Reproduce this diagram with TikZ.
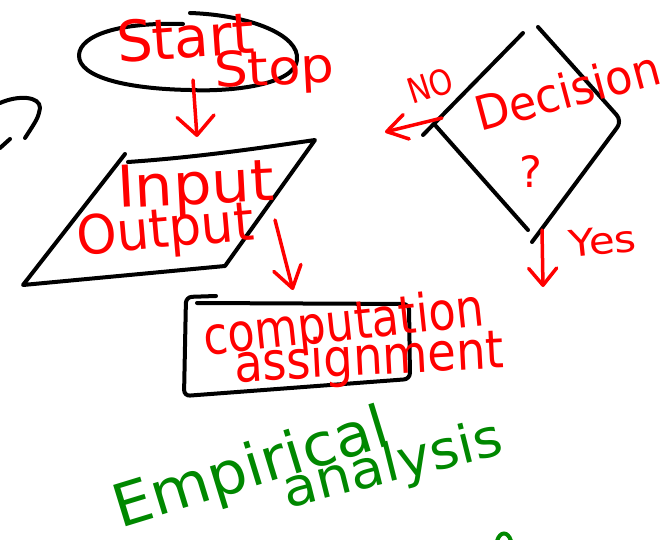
\documentclass[tikz,border=0pt]{standalone}
\usepackage{fontspec}
\setmainfont{DejaVu Sans}
\usetikzlibrary{arrows.meta,shapes.geometric}
\definecolor{ink}{RGB}{0,0,0}
\definecolor{hred}{RGB}{255,0,0}
\definecolor{hgreen}{RGB}{0,136,0}
\newcommand{\hw}[3]{\resizebox{#1pt}{#2pt}{#3}}
\begin{document}
\begin{tikzpicture}[x=1pt,y=-1pt,
  outline/.style={draw=ink,line width=4pt,line cap=round,line join=round},
  flow/.style={draw=hred,line width=3.5pt,line cap=round,line join=round},
  hand/.style={text=hred,inner sep=0pt,outer sep=0pt,anchor=base west},
  greenhand/.style={text=hgreen,inner sep=0pt,outer sep=0pt,anchor=base west}]
\fill[white] (0,0) rectangle (664,540);
\useasboundingbox (0,0) rectangle (664,540);

% partial shape at left edge
\coordinate (lA) at (0,103);
\coordinate (lB) at (40,108);
\coordinate (lC) at (25,138);
\coordinate (lD) at (0,148);
\coordinate (lE) at (10,139);
\draw[outline] (lA) .. controls (18,95) and (40,96) .. (lB) .. controls (38,118) .. (lC);
\draw[outline] (lD) -- (lE);

% terminal (hand-drawn ellipse)
\coordinate (eTop) at (190,13);
\coordinate (eRight) at (297,60);
\coordinate (eBottom) at (190,90);
\coordinate (eLeft) at (79,55);
\coordinate (eEnd) at (183,24);
\draw[outline] (eTop) .. controls (250,15) and (300,35) .. (eRight)
  .. controls (295,85) and (230,92) .. (eBottom)
  .. controls (130,89) and (78,78) .. (eLeft)
  .. controls (80,35) and (120,22) .. (eEnd);
\node[hand,rotate=4] (tStart) at (118,63) {\hw{138}{42}{Start}};
\node[hand,rotate=3] (tStop) at (215,88) {\hw{120}{36}{Stop}};

% input/output parallelogram
\coordinate (pTLa) at (125,154);
\coordinate (pBL) at (23,285);
\coordinate (pBR) at (225,266);
\coordinate (pTR) at (315,140);
\coordinate (pTLb) at (128,162);
\draw[outline] (pTLa) -- (pBL) -- (pBR) -- (pTR) .. controls (260,148) and (200,157) .. (pTLb);
\node[hand,rotate=3] (tInput) at (118,208) {\hw{157}{42}{Input}};
\node[hand,rotate=5] (tOutput) at (78,255) {\hw{178}{40}{Output}};

% computation rectangle
\coordinate (rA) at (216,296);
\coordinate (rB) at (186,297);
\coordinate (rC) at (184,396);
\coordinate (rD) at (410,379);
\coordinate (rE) at (409,304);
\coordinate (rF) at (197,303);
\draw[outline,rounded corners=6pt] (rA) -- (rB) -- (rC) -- (rD) -- (rE) -- (rF);
\node[hand,rotate=6] (tComp) at (205,355) {\hw{282}{40}{computation}};
\node[hand,rotate=3] (tAssign) at (235,382) {\hw{270}{40}{assignment}};

% decision diamond
\coordinate (dT1) at (523,33);
\coordinate (dL1) at (423,135);
\coordinate (dL2) at (435,125);
\coordinate (dB1) at (528,230);
\coordinate (dT2) at (538,27);
\coordinate (dR) at (622,121);
\coordinate (dB2) at (532,242);
\draw[outline] (dT1) -- (dL1);
\draw[outline] (dL2) -- (dB1);
\draw[outline,rounded corners=8pt] (dT2) -- (dR) -- (dB2);
\node[hand,rotate=15] (tDec) at (480,132) {\hw{190}{36}{Decision}};
\node[text=hred,inner sep=0pt] (tQ) at (531,172) {\resizebox{!}{32pt}{?}};
\node[hand,rotate=18] (tNo) at (412,105) {\hw{46}{26}{NO}};
\node[hand,rotate=6] (tYes) at (570,258) {\hw{68}{27}{Yes}};

% arrows
\coordinate (a1s) at (193,80);
\coordinate (a1e) at (197,137);
\draw[flow,-{Straight Barb[length=19pt,width=37pt,round]}] (a1s) -- (a1e);
\coordinate (a2s) at (275,220);
\coordinate (a2e) at (293,290);
\draw[flow,-{Straight Barb[length=21pt,width=28pt,round]}] (a2s) -- (a2e);
\coordinate (a3s) at (542,230);
\coordinate (a3e) at (543,287);
\draw[flow,-{Straight Barb[length=17pt,width=28pt,round]}] (a3s) -- (a3e);
\coordinate (a4s) at (442,118);
\coordinate (a4e) at (385,132);
\draw[flow,-{Straight Barb[length=20pt,width=25pt,round]}] (a4s) -- (a4e);

% green note
\node[greenhand,rotate=17] (tEmp) at (120,528) {\hw{285}{45}{Empirical}};
\node[greenhand,rotate=14] (tAna) at (287,508) {\hw{225}{40}{analysis}};
\coordinate (gA) at (497,541);
\coordinate (gB) at (511,541);
\draw[draw=hgreen,line width=4pt,line cap=round] (gA) .. controls (500,531) and (508,531) .. (gB);
\end{tikzpicture}
\end{document}
